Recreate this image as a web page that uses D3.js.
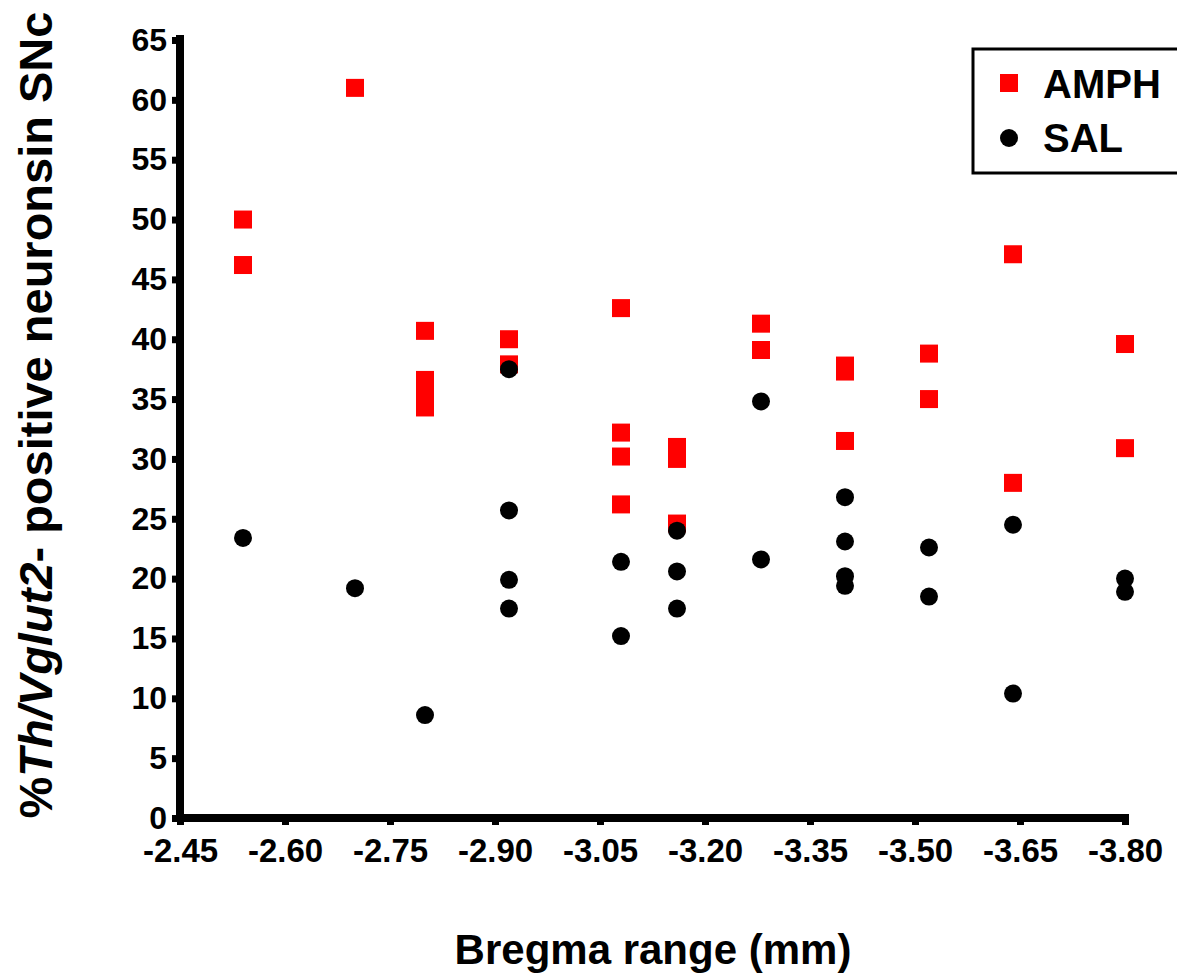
<!DOCTYPE html>
<html>
<head>
<meta charset="utf-8">
<script src="https://cdn.jsdelivr.net/npm/d3@7"></script>
<style>
  html, body { margin: 0; padding: 0; background: #fff; }
  svg { display: block; font-family: "Liberation Sans", Arial, sans-serif; }
</style>
</head>
<body>
<svg id="chart" width="1177" height="975"></svg>
<script>
// ---- data ----
const xTicks = [-2.45, -2.60, -2.75, -2.90, -3.05, -3.20, -3.35, -3.50, -3.65, -3.80];
const yTicks = [0, 5, 10, 15, 20, 25, 30, 35, 40, 45, 50, 55, 60, 65];
const bregma = [-2.54, -2.70, -2.80, -2.92, -3.08, -3.16, -3.28, -3.40, -3.52, -3.64, -3.80];
const amphValues = [
  [50.0, 46.2],
  [61.0],
  [40.7, 36.6, 35.5, 34.3],
  [40.0, 37.9],
  [42.6, 32.2, 30.2, 26.2],
  [31.0, 30.0, 24.6],
  [41.3, 39.1],
  [37.8, 37.3, 31.5],
  [38.8, 35.0],
  [47.1, 28.0],
  [39.6, 30.9]
];
const salValues = [
  [23.4],
  [19.2],
  [8.6],
  [37.5, 25.7, 19.9, 17.5],
  [21.4, 15.2],
  [24.0, 20.6, 17.5],
  [34.8, 21.6],
  [26.8, 23.1, 20.2, 19.4],
  [22.6, 18.5],
  [24.5, 10.4],
  [20.0, 18.9]
];
const seriesNames = ["AMPH", "SAL"];
const yTitleParts = [["%", false], ["Th/Vglut2", true], ["- positive neuronsin SNc", false]];
const xTitle = "Bregma range (mm)";

// ---- build ----
const svg = d3.select("#chart");
const x = d3.scaleLinear().domain([-2.45, -3.80]).range([180, 1125]);
const y = d3.scaleLinear().domain([0, 65]).range([818, 40]);

const amphPts = [];
bregma.forEach((b, i) => amphValues[i].forEach(v => amphPts.push({x: b, y: v})));
const salPts = [];
bregma.forEach((b, i) => salValues[i].forEach(v => salPts.push({x: b, y: v})));

// axes
const xAxis = d3.axisBottom(x).tickValues(xTicks).tickSize(7).tickPadding(14)
  .tickFormat(d => d.toFixed(2));
const yAxis = d3.axisLeft(y).tickValues(yTicks).tickSize(8).tickPadding(5)
  .tickFormat(d => String(d));

const gx = svg.append("g").attr("transform", "translate(0,818)").call(xAxis);
const gy = svg.append("g").attr("transform", "translate(180,0)").call(yAxis);

[gx, gy].forEach(g => {
  g.select(".domain").remove();
  g.selectAll(".tick line").attr("stroke", "#000").attr("stroke-width", 7);
  g.selectAll(".tick text").attr("fill", "#000").attr("font-weight", "bold")
    .attr("font-size", 33).attr("font-family", "Liberation Sans, Arial, sans-serif");
});
gy.selectAll(".tick text").attr("font-size", 32);

// axis lines
svg.append("line").attr("x1", x(-2.45)).attr("x2", x(-3.80) + 4)
  .attr("y1", y(0)).attr("y2", y(0)).attr("stroke", "#000").attr("stroke-width", 8);
svg.append("line").attr("x1", x(-2.45)).attr("x2", x(-2.45))
  .attr("y1", y(0) + 4).attr("y2", y(65) - 5).attr("stroke", "#000").attr("stroke-width", 8);

// markers
const sq = 18;
svg.append("g").selectAll("rect").data(amphPts).join("rect")
  .attr("x", d => x(d.x) - sq / 2).attr("y", d => y(d.y) - sq / 2)
  .attr("width", sq).attr("height", sq).attr("fill", "#ff0000");
svg.append("g").selectAll("circle").data(salPts).join("circle")
  .attr("cx", d => x(d.x)).attr("cy", d => y(d.y)).attr("r", 9).attr("fill", "#000");

// legend
const lg = svg.append("g");
lg.append("rect").attr("x", 973).attr("y", 49).attr("width", 215).attr("height", 124)
  .attr("fill", "#fff").attr("stroke", "#000").attr("stroke-width", 3);
lg.append("rect").attr("x", 1009 - 9).attr("y", 83 - 9).attr("width", 18).attr("height", 18)
  .attr("fill", "#ff0000");
lg.append("circle").attr("cx", 1009).attr("cy", 138).attr("r", 9).attr("fill", "#000");
lg.selectAll("text").data(seriesNames).join("text")
  .attr("x", 1043).attr("y", (d, i) => i === 0 ? 98 : 152)
  .attr("font-size", 40).attr("font-weight", "bold").attr("fill", "#000")
  .text(d => d);

// axis titles
svg.append("text").attr("x", 653).attr("y", 964).attr("text-anchor", "middle")
  .attr("font-size", 42).attr("font-weight", "bold").attr("fill", "#000").text(xTitle);

const yt = svg.append("text").attr("transform", "translate(52,415) rotate(-90)")
  .attr("text-anchor", "middle").attr("font-size", 47).attr("font-weight", "bold").attr("fill", "#000");
yt.selectAll("tspan").data(yTitleParts).join("tspan")
  .attr("font-style", d => d[1] ? "italic" : "normal")
  .text(d => d[0]);
</script>
</body>
</html>
